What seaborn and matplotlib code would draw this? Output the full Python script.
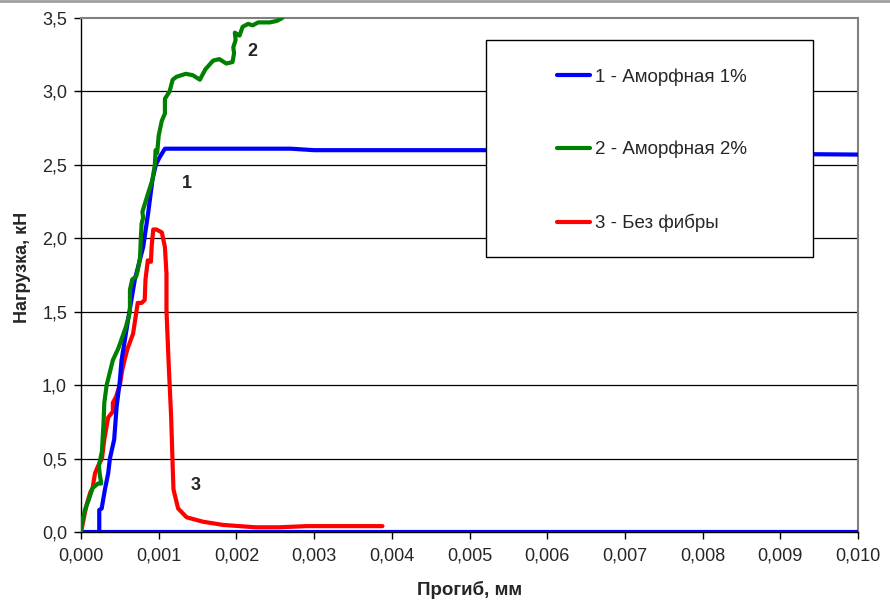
import matplotlib
matplotlib.use("Agg")
import matplotlib.pyplot as plt
import matplotlib.lines as mlines
import matplotlib.patches as mpatches
import numpy as np
import pandas as pd
import seaborn as sns

sns.set_theme(style="white")
plt.rcParams['font.family'] = ['Liberation Sans', 'DejaVu Sans']

# ---- data (deflection, mm ; load, kN) ----
blue_x = [0.0, 0.0100]
blue_y = [0.0, 0.0]
s1_x = [0.000235, 0.000235, 0.000266, 0.000308, 0.00035, 0.000372, 0.000427, 0.000458,
        0.000479, 0.0005, 0.000522, 0.000565, 0.00062, 0.000693, 0.0008, 0.000864,
        0.00092, 0.000963, 0.00101, 0.00108, 0.0027, 0.003, 0.0052, 0.0065, 0.0100]
s1_y = [0.0, 0.15, 0.16, 0.29, 0.40, 0.50, 0.63, 0.85, 0.94, 1.03, 1.17, 1.31, 1.49,
        1.72, 1.94, 2.17, 2.40, 2.50, 2.55, 2.61, 2.61, 2.60, 2.60, 2.585, 2.57]

s2_x = [0.0, 0.00001, 0.00005, 0.0001, 0.00015, 0.00022, 0.00026, 0.00024, 0.00023,
        0.00027, 0.00028, 0.00029, 0.0003, 0.00033, 0.00041, 0.00048, 0.00052, 0.00058,
        0.00063, 0.00063, 0.00066, 0.00071, 0.00073, 0.00076, 0.00077, 0.00078, 0.0008,
        0.00079, 0.00086, 0.00092, 0.00095, 0.00096, 0.00098, 0.001, 0.00104, 0.00108,
        0.00108, 0.00114, 0.00118, 0.00123, 0.00135, 0.00144, 0.00153, 0.0016, 0.0017,
        0.00178, 0.00187, 0.00195, 0.00197, 0.00196, 0.00199, 0.00198, 0.00204, 0.00208,
        0.00215, 0.00221, 0.00228, 0.00243, 0.00252, 0.00259]
s2_y = [0.0, 0.05, 0.15, 0.22, 0.30, 0.33, 0.33, 0.40, 0.45, 0.55, 0.65, 0.74, 0.88,
        1.0, 1.17, 1.25, 1.31, 1.40, 1.50, 1.65, 1.72, 1.74, 1.78, 1.87, 2.0, 2.10, 2.14,
        2.18, 2.30, 2.40, 2.50, 2.60, 2.58, 2.70, 2.80, 2.85, 2.95, 3.0, 3.08, 3.10, 3.12,
        3.11, 3.08, 3.15, 3.21, 3.22, 3.19, 3.20, 3.26, 3.30, 3.35, 3.40, 3.38, 3.44,
        3.46, 3.45, 3.47, 3.47, 3.48, 3.50]

s3_x = [0.0, 0.00002, 0.00005, 0.00008, 0.00012, 0.00015, 0.00018, 0.00022, 0.00027,
        0.0003, 0.00033, 0.00035, 0.00041, 0.00041, 0.00045, 0.0005, 0.00053, 0.00056,
        0.0006, 0.00067, 0.00071, 0.00073, 0.00078, 0.00082, 0.00083, 0.00086, 0.0009,
        0.00091, 0.00093, 0.00097, 0.00104, 0.00108, 0.0011, 0.0011, 0.00113, 0.00116,
        0.00118, 0.00119, 0.00125, 0.00136, 0.00157, 0.00183, 0.00225, 0.00255, 0.0029,
        0.00388]
s3_y = [0.0, 0.05, 0.13, 0.20, 0.27, 0.30, 0.40, 0.45, 0.50, 0.63, 0.72, 0.78, 0.82,
        0.88, 0.92, 1.0, 1.10, 1.17, 1.25, 1.35, 1.49, 1.56, 1.56, 1.58, 1.72, 1.85,
        1.84, 1.95, 2.06, 2.06, 2.04, 1.94, 1.76, 1.51, 1.125, 0.785, 0.445, 0.29, 0.16,
        0.10, 0.07, 0.048, 0.032, 0.032, 0.04, 0.04]

labels = ["1 - Аморфная 1%", "2 - Аморфная 2%", "3 - Без фибры"]
colors = ["#0000FF", "#008000", "#FF0000"]
x_ticks = [0.000, 0.001, 0.002, 0.003, 0.004, 0.005, 0.006, 0.007, 0.008, 0.009, 0.010]
y_ticks = [0.0, 0.5, 1.0, 1.5, 2.0, 2.5, 3.0, 3.5]

fig = plt.figure(figsize=(8.90, 6.01), dpi=100)
ax = fig.add_axes([81/890, 1-532/601, (858-81)/890, (532-18)/601])

def ax_xy(px, py):
    return ((px - 81) / 777, (532 - py) / 514)

# grid lines
for yv in y_ticks[1:-1]:
    ax.axhline(yv, color="#000000", lw=0.9, zorder=1)

lw = 3.0
sns.lineplot(x=blue_x, y=blue_y, ax=ax, color=colors[0], lw=lw, sort=False,
             estimator=None, legend=False, zorder=3)
sns.lineplot(x=s3_x, y=s3_y, ax=ax, color=colors[2], lw=lw, sort=False,
             estimator=None, legend=False, zorder=3)
sns.lineplot(x=s1_x, y=s1_y, ax=ax, color=colors[0], lw=lw, sort=False,
             estimator=None, legend=False, zorder=4)
sns.lineplot(x=s2_x, y=s2_y, ax=ax, color=colors[1], lw=lw, sort=False,
             estimator=None, legend=False, zorder=5)

ax.set_xlim(0, 0.010)
ax.set_ylim(0, 3.5)
ax.set_xticks(x_ticks)
ax.set_yticks(y_ticks)
ax.set_xticklabels([f"{v:.3f}".replace(".", ",") for v in x_ticks], fontsize=13)
ax.set_yticklabels([f"{v:.1f}".replace(".", ",") for v in y_ticks], fontsize=13)
ax.tick_params(axis="both", direction="out", length=5, width=1, color="black",
               bottom=True, left=True, pad=5)
ax.tick_params(axis="x", pad=6)

for side in ["left", "bottom"]:
    ax.spines[side].set_color("black")
    ax.spines[side].set_linewidth(1.0)
for side in ["top", "right"]:
    ax.spines[side].set_color("#808080")
    ax.spines[side].set_linewidth(1.5)

ax.set_xlabel("Прогиб, мм", fontsize=13.5, fontweight="bold", labelpad=12)
ax.set_ylabel("Нагрузка, кН", fontsize=13, fontweight="bold")
ax.yaxis.set_label_coords((31 - 81) / 777, (532 - 267) / 514)

# curve annotations
ax.text(0.00136, 2.37, "1", fontsize=13, fontweight="bold", ha="center", va="center")
ax.text(0.00221, 3.27, "2", fontsize=13, fontweight="bold", ha="center", va="center")
ax.text(0.00147, 0.32, "3", fontsize=13, fontweight="bold", ha="center", va="center")

# legend box
x0, y0 = ax_xy(486, 257)
x1, y1 = ax_xy(813, 40)
box = mpatches.Rectangle((x0, y0), x1 - x0, y1 - y0, transform=ax.transAxes,
                         facecolor="white", edgecolor="black", lw=1.0, zorder=9)
ax.add_patch(box)

handles = [mlines.Line2D([], [], color=c, lw=3.0) for c in colors]
leg = ax.legend(handles, labels, loc="upper left",
                bbox_to_anchor=ax_xy(557, 68),
                fontsize=13.5, frameon=False,
                borderpad=0, labelspacing=2.96, handlelength=1.76, handletextpad=0.27,
                borderaxespad=0)
leg.set_zorder(10)

fig.add_artist(mlines.Line2D([0, 1], [0.998, 0.998], color="#a0a0a0", lw=2,
                             transform=fig.transFigure))

fig.savefig("out.png", dpi=100)
